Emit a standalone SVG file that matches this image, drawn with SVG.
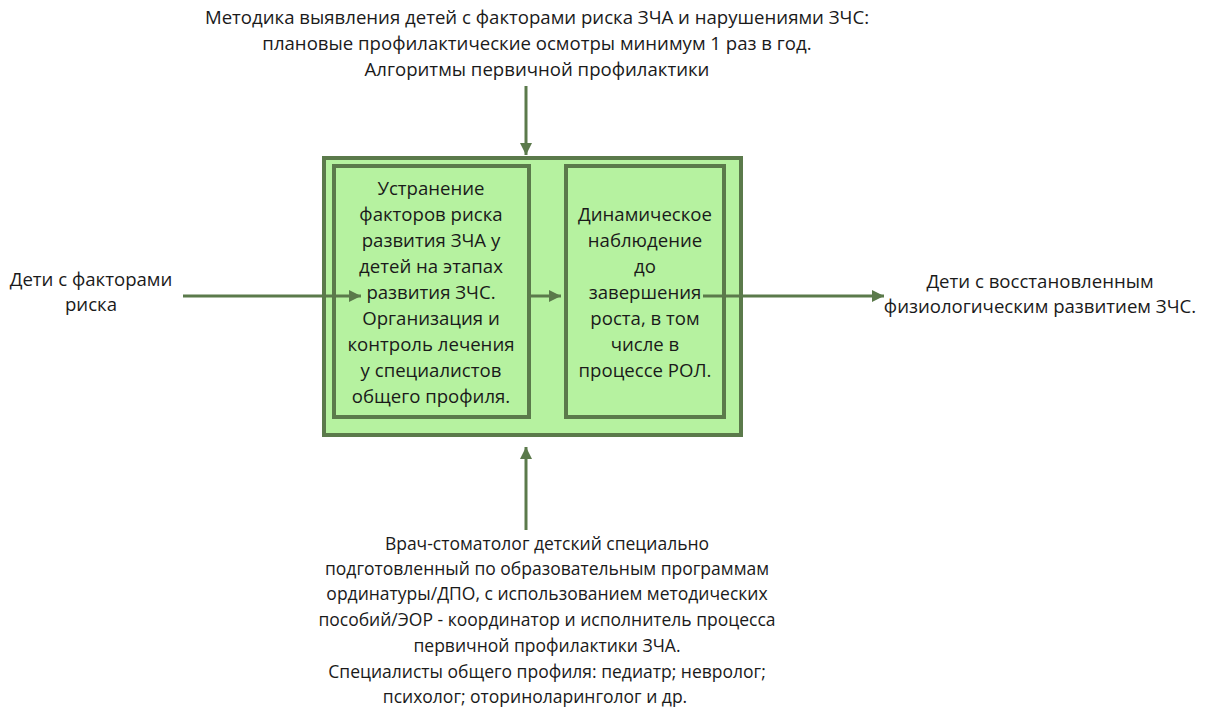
<svg xmlns="http://www.w3.org/2000/svg" width="1214" height="711" viewBox="0 0 1214 711">
<style>
text{font-family:"Open Sans","Noto Sans","Liberation Sans",sans-serif;font-size:18.6px;fill:#1a1a1a;text-anchor:middle}
.small text{font-size:17.5px}
.box{fill:#b6f2a0;stroke:#5b7a4b;stroke-width:4}
.inner{fill:#b6f2a0;stroke:#5b7a4b;stroke-width:4}
.conn{stroke:#5b7a4b;stroke-width:3;fill:none}
</style>
<defs>
<marker id="ah" viewBox="0 0 10 10" refX="10" refY="5" markerWidth="4" markerHeight="4" orient="auto" markerUnits="strokeWidth">
<path d="M0,0 L10,5 L0,10 z" fill="#5b7a4b"/>
</marker>
</defs>
<g id="outer-box"><rect class="box" x="324" y="158" width="417" height="277"/></g>
<g id="node-elimination">
<rect class="inner" x="334" y="166" width="195" height="251"/>
<text x="431" y="195">Устранение</text>
<text x="431" y="221">факторов риска</text>
<text x="431" y="247">развития ЗЧА у</text>
<text x="431" y="273">детей на этапах</text>
<text x="431" y="299">развития ЗЧС.</text>
<text x="431" y="325">Организация и</text>
<text x="431" y="351">контроль лечения</text>
<text x="431" y="377">у специалистов</text>
<text x="431" y="403">общего профиля.</text>
</g>
<g id="node-observation">
<rect class="inner" x="566" y="166" width="158" height="251"/>
<text x="645" y="221">Динамическое</text>
<text x="645" y="247">наблюдение</text>
<text x="645" y="273">до</text>
<text x="645" y="299">завершения</text>
<text x="645" y="325">роста, в том</text>
<text x="645" y="351">числе в</text>
<text x="645" y="377">процессе РОЛ.</text>
</g>
<g id="node-control">
<text x="537" y="24">Методика выявления детей с факторами риска ЗЧА и нарушениями ЗЧС:</text>
<text x="537" y="50">плановые профилактические осмотры минимум 1 раз в год.</text>
<text x="537" y="76">Алгоритмы первичной профилактики</text>
</g>
<g id="node-input">
<text x="91" y="286">Дети с факторами</text>
<text x="91" y="311">риска</text>
</g>
<g id="node-output">
<text x="1040" y="288">Дети с восстановленным</text>
<text x="1040" y="313">физиологическим развитием ЗЧС.</text>
</g>
<g id="node-mechanism" class="small">
<text x="547" y="550">Врач-стоматолог детский специально</text>
<text x="547" y="575">подготовленный по образовательным программам</text>
<text x="547" y="600">ординатуры/ДПО, с использованием методических</text>
<text x="547" y="626">пособий/ЭОР - координатор и исполнитель процесса</text>
<text x="547" y="652">первичной профилактики ЗЧА.</text>
<text x="547" y="678">Специалисты общего профиля: педиатр; невролог;</text>
<text x="535" y="703">психолог; оториноларинголог и др.</text>
</g>
<g id="connectors">
<line class="conn" x1="526" y1="86" x2="526" y2="155" marker-end="url(#ah)"/>
<line class="conn" x1="183" y1="296" x2="361" y2="296" marker-end="url(#ah)"/>
<line class="conn" x1="529" y1="296" x2="561" y2="296" marker-end="url(#ah)"/>
<line class="conn" x1="703" y1="296" x2="884" y2="296" marker-end="url(#ah)"/>
<line class="conn" x1="526" y1="530" x2="526" y2="447" marker-end="url(#ah)"/>
</g>
</svg>
